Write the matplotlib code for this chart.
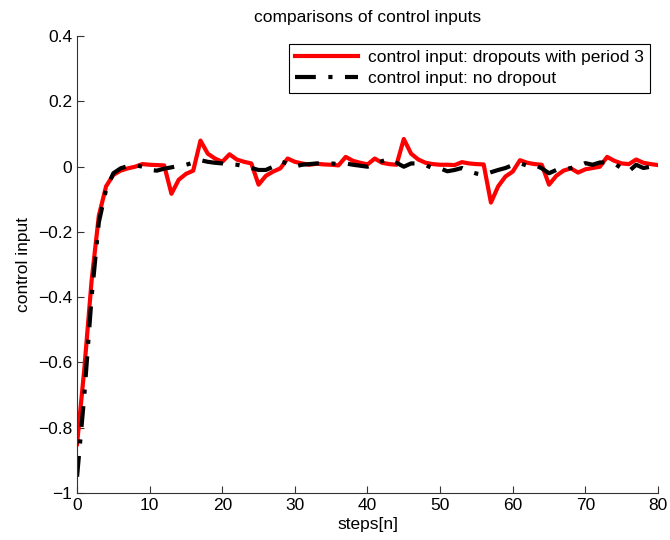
import matplotlib
matplotlib.use('Agg')
import matplotlib.pyplot as plt
from matplotlib.ticker import FuncFormatter

plt.rcParams['font.family'] = ['Liberation Sans', 'DejaVu Sans']

steps = list(range(81))

# control input with dropouts (period 3)
u_drop = [-0.85, -0.62, -0.35, -0.15, -0.06, -0.025, -0.012, -0.005, 0.0, 0.008,
          0.006, 0.005, 0.004, -0.083, -0.04, -0.022, -0.012, 0.08, 0.04, 0.025,
          0.015, 0.038, 0.022, 0.015, 0.01, -0.055, -0.028, -0.015, -0.005, 0.025,
          0.015, 0.01, 0.006, 0.009, 0.007, 0.006, 0.004, 0.03, 0.018, 0.012,
          0.007, 0.025, 0.012, 0.008, 0.006, 0.085, 0.04, 0.022, 0.012, 0.008,
          0.006, 0.006, 0.005, 0.014, 0.01, 0.008, 0.007, -0.11, -0.06, -0.03,
          -0.015, 0.02, 0.012, 0.008, 0.006, -0.055, -0.028, -0.012, -0.005, -0.018,
          -0.008, -0.004, 0.0, 0.03, 0.018, 0.01, 0.008, 0.022, 0.012, 0.008,
          0.005]

# control input without dropout
u_full = [-0.95, -0.7, -0.4, -0.17, -0.07, -0.02, -0.005, 0.002, 0.005, 0.0,
          -0.01, -0.012, -0.006, -0.002, 0.003, 0.006, 0.012, 0.02, 0.015, 0.012,
          0.01, 0.008, 0.006, 0.002, -0.004, -0.01, -0.01, 0.0, 0.016, 0.01,
          0.001, 0.006, 0.008, 0.01, 0.01, 0.01, 0.008, 0.01, 0.006, 0.003,
          0.0, 0.008, 0.017, 0.024, 0.012, 0.0, 0.01, 0.01, 0.005, -0.005,
          -0.005, -0.014, -0.01, -0.004, -0.014, -0.021, -0.025, -0.017, -0.01, -0.004,
          0.005, 0.011, 0.003, 0.006, -0.005, -0.02, -0.01, -0.01, -0.004, 0.001,
          0.011, 0.006, 0.013, 0.013, 0.01, -0.005, -0.014, 0.006, -0.004, 0.0,
          0.001]

fig = plt.figure(figsize=(6.7, 5.4), dpi=100)
ax = fig.add_axes([0.115, 0.087, 0.867, 0.846])

ax.plot(steps, u_drop, '-', color='#ff0000', lw=3, label='control input: dropouts with period 3')
ax.plot(steps, u_full, '-.', color='black', lw=3, dashes=(5, 3, 1, 3),
        label='control input: no dropout')

ax.set_xlim(0, 80)
ax.set_ylim(-1, 0.4)
ax.set_xticks(range(0, 81, 10))
ax.set_yticks([-1, -0.8, -0.6, -0.4, -0.2, 0, 0.2, 0.4])
ax.yaxis.set_major_formatter(FuncFormatter(lambda v, p: ('%g' % round(v, 2)).replace('-', '\u2212')))
ax.tick_params(direction='in', labelsize=12.5, length=5, width=0.8, colors='#333333',
               labelcolor='black')
ax.spines['top'].set_visible(False)
ax.spines['right'].set_visible(False)
for s in ['left', 'bottom']:
    ax.spines[s].set_linewidth(0.8)
    ax.spines[s].set_color('#333333')

ax.set_title('comparisons of control inputs', fontsize=12.5, pad=10)
ax.set_xlabel('steps[n]', fontsize=12.5, labelpad=3)
ax.set_ylabel('control input', fontsize=12.5, labelpad=5)

leg = ax.legend(loc='upper right', fontsize=12.5, fancybox=False, framealpha=1,
                edgecolor='black', handlelength=3.6, borderaxespad=0.45,
                borderpad=0.35, labelspacing=0.35, handletextpad=0.6)
leg.get_frame().set_linewidth(0.8)

fig.savefig('out.png', dpi=100)
